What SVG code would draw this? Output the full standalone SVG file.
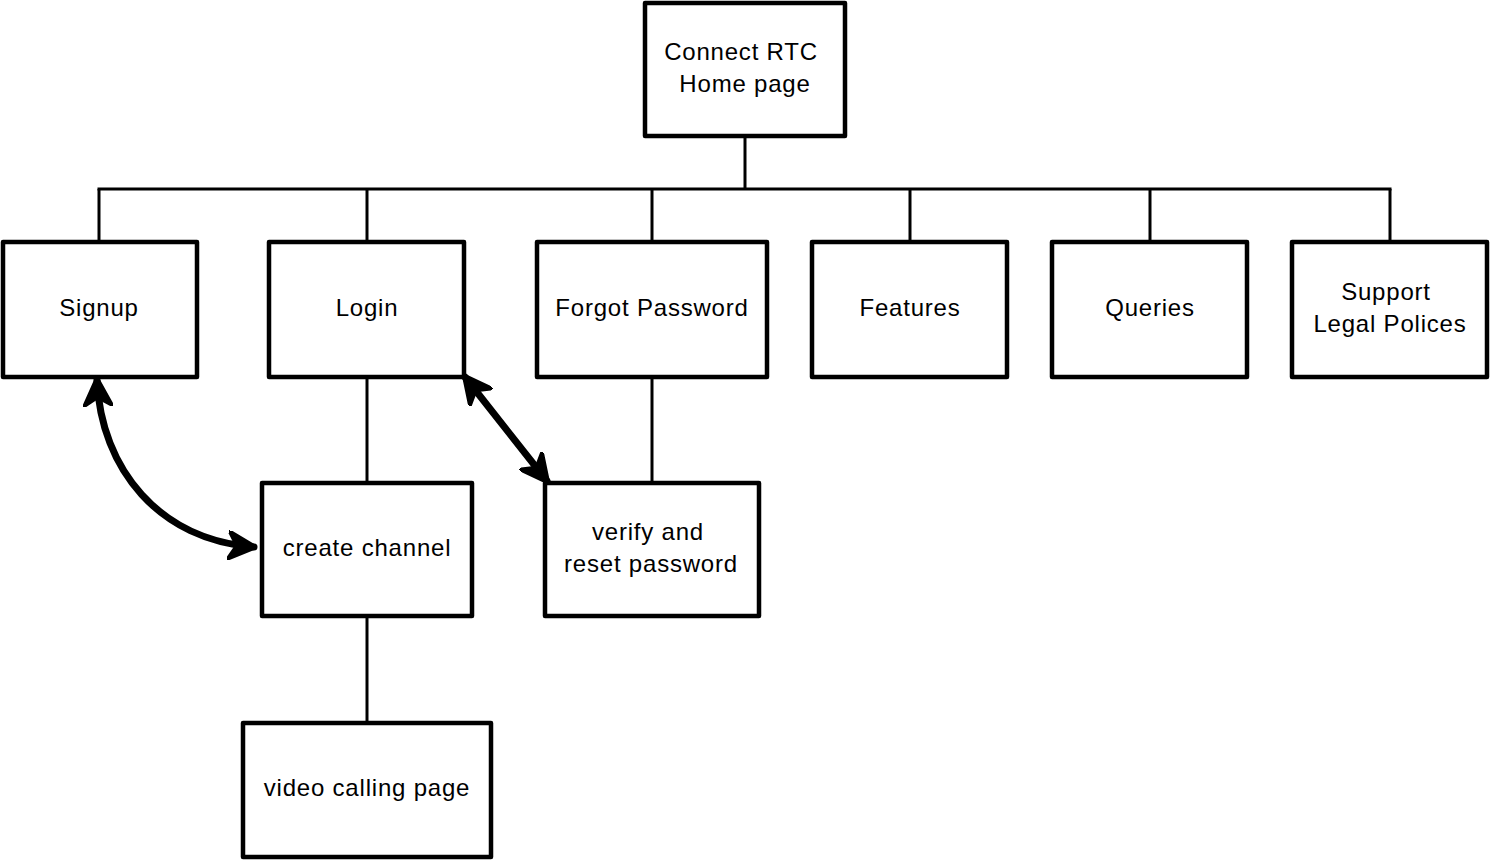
<svg xmlns="http://www.w3.org/2000/svg" width="1490" height="860" viewBox="0 0 1490 860">
<style>
.box{fill:#fff;stroke:#000;stroke-width:4.5;stroke-linejoin:round}
.ln{fill:none;stroke:#000;stroke-width:3}
.arr{fill:none;stroke:#000;stroke-width:7;stroke-linecap:round}
text{font-family:"Liberation Sans","DejaVu Sans",sans-serif;font-size:24px;letter-spacing:0.8px;fill:#000;text-anchor:middle;dominant-baseline:middle}
</style>
<defs>
<marker id="ah" viewBox="0 0 10 10" refX="9" refY="5" markerWidth="4.2" markerHeight="4.2" orient="auto-start-reverse" markerUnits="strokeWidth">
<path d="M0,0 L10,5 L0,10 L3,5 Z" fill="#000" stroke="#000" stroke-width="1" stroke-linejoin="round"/>
</marker>
</defs>
<g id="connectors">
<line class="ln" x1="745" y1="136" x2="745" y2="189"/>
<line class="ln" x1="97.5" y1="189" x2="1391.5" y2="189"/>
<line class="ln" x1="99" y1="189" x2="99" y2="242"/>
<line class="ln" x1="367" y1="189" x2="367" y2="242"/>
<line class="ln" x1="652" y1="189" x2="652" y2="242"/>
<line class="ln" x1="910" y1="189" x2="910" y2="242"/>
<line class="ln" x1="1150" y1="189" x2="1150" y2="242"/>
<line class="ln" x1="1390" y1="189" x2="1390" y2="242"/>
<line class="ln" x1="367" y1="377" x2="367" y2="483"/>
<line class="ln" x1="367" y1="616" x2="367" y2="723"/>
<line class="ln" x1="652" y1="377" x2="652" y2="483"/>
<path class="arr" d="M97,380 C101,470 160,540 254,547" marker-start="url(#ah)" marker-end="url(#ah)"/>
<path class="arr" d="M465,377 L547,481" marker-start="url(#ah)" marker-end="url(#ah)"/>
</g>
<g id="home"><rect class="box" x="645" y="3" width="200" height="133"/><text x="741" y="54">Connect RTC</text><text x="745" y="86">Home page</text></g>
<g id="signup"><rect class="box" x="3" y="242" width="194" height="135"/><text x="99" y="310">Signup</text></g>
<g id="login"><rect class="box" x="269" y="242" width="195" height="135"/><text x="367" y="310">Login</text></g>
<g id="forgot"><rect class="box" x="537" y="242" width="230" height="135"/><text x="652" y="310">Forgot Password</text></g>
<g id="features"><rect class="box" x="812" y="242" width="195" height="135"/><text x="910" y="310">Features</text></g>
<g id="queries"><rect class="box" x="1052" y="242" width="195" height="135"/><text x="1150" y="310">Queries</text></g>
<g id="support"><rect class="box" x="1292" y="242" width="195" height="135"/><text x="1386" y="294">Support</text><text x="1390" y="326">Legal Polices</text></g>
<g id="channel"><rect class="box" x="262" y="483" width="210" height="133"/><text x="367" y="550">create channel</text></g>
<g id="verify"><rect class="box" x="545" y="483" width="214" height="133"/><text x="648" y="534">verify and</text><text x="651" y="566">reset password</text></g>
<g id="video"><rect class="box" x="243" y="723" width="248" height="134"/><text x="367" y="790">video calling page</text></g>
</svg>
